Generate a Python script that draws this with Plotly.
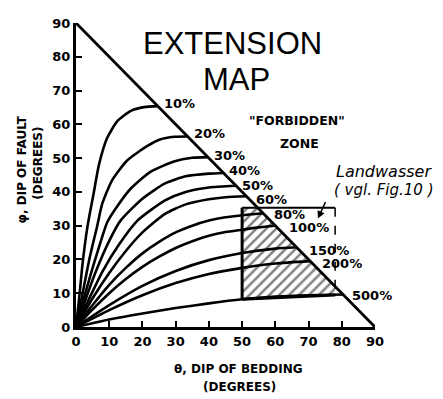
import plotly.graph_objects as go

# ---------------- data ----------------
curve_labels = ["10%", "20%", "30%", "40%", "50%", "60%", "80%", "100%", "150%", "200%", "500%"]

theta_10 = [0, 1, 2, 3.5, 5.3, 6.9, 9.4, 12.5, 16.5, 20.5, 24.6]
phi_10 = [0, 9, 19, 30, 39.5, 48, 56, 61, 64, 65.1, 65.4]

theta_20 = [0, 2, 4, 6.4, 7.9, 10.9, 15.4, 21.5, 25.3, 29.5, 33.6]
phi_20 = [0, 10, 20, 30, 36.5, 43.5, 49.3, 53.6, 55.5, 56.3, 56.4]

theta_30 = [0, 2.5, 5, 7.5, 9.4, 11.9, 16.5, 22.5, 29.5, 35, 39.7]
phi_30 = [0, 9, 17.5, 25.5, 31, 35, 41, 46, 49, 50.1, 50.3]

theta_40 = [0, 3, 6, 10, 13.4, 20, 26.8, 33, 40, 44.4]
phi_40 = [0, 8.5, 16.5, 25.5, 31.5, 38, 42.5, 44.6, 45.4, 45.6]

theta_50 = [0, 4, 8, 13, 18.5, 26.8, 33, 40, 48.2]
phi_50 = [0, 8.5, 16.5, 24.5, 31.5, 37.5, 40, 41.3, 41.8]

theta_60 = [0, 5, 10, 15, 20, 26.8, 33, 40, 45, 51.3]
phi_60 = [0, 8.5, 16, 22.5, 28, 33.5, 36.3, 37.8, 38.4, 38.7]

theta_80 = [0, 5, 10, 15, 20, 25, 30, 35, 40, 45, 50, 56.3]
phi_80 = [0, 6.5, 12.5, 17.5, 21.8, 25.2, 28, 30, 31.5, 32.5, 33.1, 33.7]

theta_100 = [0, 5, 10, 15, 20, 25, 30, 35, 40, 45, 50, 55, 60]
phi_100 = [0, 5.2, 10, 14.2, 17.8, 20.8, 23.4, 25.4, 27, 28.1, 28.8, 29.5, 30]

theta_150 = [0, 10, 20, 30, 40, 50, 60, 66.4]
phi_150 = [0, 6.5, 12.2, 16.6, 19.8, 21.9, 23.2, 23.6]

theta_200 = [0, 10, 20, 30, 40, 50, 60, 70.5]
phi_200 = [0, 5, 9.4, 13, 15.7, 17.5, 18.8, 19.5]

theta_500 = [0, 10, 20, 30, 40, 50, 60, 70, 80.4]
phi_500 = [0, 2.2, 4, 5.6, 7, 8.2, 9, 9.4, 9.6]

curve_theta = [theta_10, theta_20, theta_30, theta_40, theta_50, theta_60,
               theta_80, theta_100, theta_150, theta_200, theta_500]
curve_phi = [phi_10, phi_20, phi_30, phi_40, phi_50, phi_60,
             phi_80, phi_100, phi_150, phi_200, phi_500]

diag_theta = [0, 90]
diag_phi = [90, 0]

axis_ticks = [0, 10, 20, 30, 40, 50, 60, 70, 80, 90]

# Landwasser field (hatched box)
box_theta = [50, 78]
box_phi_top = 35.3
box_phi_bottom = [8.2, 9.5]

# ---------------- styles ----------------
label_dx = [4, 4, 4, 3, 4, 8, 9, 12, 10, 10, 7]
label_dy = [3, 3, 2, 2, 0, -3, -1.5, -2, -3, -2, -1]
INK = "black"
BOLD = dict(family="DejaVu Sans", size=13, color=INK, weight="bold")

fig = go.Figure()

# hatched region (below the diagonal)
hx = [box_theta[0], box_theta[0], 90 - box_phi_top, box_theta[1], box_theta[1], box_theta[0]]
hy = [box_phi_bottom[0], box_phi_top, box_phi_top, 90 - box_theta[1], box_phi_bottom[1], box_phi_bottom[0]]
fig.add_trace(go.Scatter(
    x=hx, y=hy, mode="lines", fill="toself", line=dict(width=0, color=INK),
    fillcolor="rgba(0,0,0,0)",
    fillpattern=dict(shape="/", size=7, solidity=0.35, fgcolor=INK, bgcolor="white"),
    hoverinfo="skip", showlegend=False))

# box outline
fig.add_trace(go.Scatter(x=[box_theta[0], box_theta[0]], y=[box_phi_bottom[0], box_phi_top],
                         mode="lines", line=dict(color=INK, width=3), showlegend=False))
fig.add_trace(go.Scatter(x=[box_theta[0], box_theta[1]], y=[box_phi_top, box_phi_top],
                         mode="lines", line=dict(color=INK, width=1.8), showlegend=False))
fig.add_trace(go.Scatter(x=[box_theta[1], box_theta[1]], y=[box_phi_top, box_phi_bottom[1]],
                         mode="lines", line=dict(color=INK, width=1.5, dash="dash"), showlegend=False))
fig.add_trace(go.Scatter(x=box_theta, y=box_phi_bottom,
                         mode="lines", line=dict(color=INK, width=3), showlegend=False))

# extension curves
for th, ph in zip(curve_theta, curve_phi):
    fig.add_trace(go.Scatter(x=th, y=ph, mode="lines",
                             line=dict(color=INK, width=2.6, shape="spline", smoothing=0.6),
                             cliponaxis=False, showlegend=False, hoverinfo="skip"))

# diagonal limit line
fig.add_trace(go.Scatter(x=diag_theta, y=diag_phi, mode="lines",
                         line=dict(color=INK, width=2.8), cliponaxis=False,
                         showlegend=False, hoverinfo="skip"))

# percentage labels
for lab, th, ph, dx, dy in zip(curve_labels, curve_theta, curve_phi, label_dx, label_dy):
    fig.add_annotation(x=th[-1], y=ph[-1], text=lab, showarrow=False,
                       xanchor="left", yanchor="middle", xshift=dx, yshift=dy,
                       font=BOLD)

# texts
TITLE_BIG = dict(family="Liberation Sans", size=31, color=INK)
fig.add_annotation(x=47.1, y=83.8, text="EXTENSION", showarrow=False, font=TITLE_BIG,
                   xanchor="center", yanchor="middle")
fig.add_annotation(x=48.2, y=73.3, text="MAP", showarrow=False, font=TITLE_BIG,
                   xanchor="center", yanchor="middle")
fig.add_annotation(x=66.5, y=61.2, text="\"FORBIDDEN\"", showarrow=False,
                   xanchor="center", yanchor="middle",
                   font=dict(family="DejaVu Sans", size=12.5, color=INK, weight="bold"))
fig.add_annotation(x=67.4, y=54.4, text="ZONE", showarrow=False,
                   xanchor="center", yanchor="middle",
                   font=dict(family="DejaVu Sans", size=12.5, color=INK, weight="bold"))
HAND = dict(family="DejaVu Sans", size=16, color=INK, style="italic")
fig.add_annotation(xref="paper", yref="paper", x=1.030, y=0.512, text="Landwasser",
                   xanchor="center", yanchor="middle", showarrow=False, font=HAND)
fig.add_annotation(xref="paper", yref="paper", x=1.030, y=0.451, text="( vgl. Fig.10 )",
                   xanchor="center", yanchor="middle", showarrow=False, font=dict(HAND, size=15))
fig.add_annotation(x=72.8, y=32.1, ax=75.3, ay=37.4, axref="x", ayref="y",
                   text="", showarrow=True, arrowhead=2, arrowsize=1, arrowwidth=1.5,
                   arrowcolor=INK)

# axis titles
TITLE = dict(family="DejaVu Sans", size=12, color=INK, weight="bold")
fig.add_annotation(xref="paper", yref="paper", x=0.542, y=-0.138, text="θ, DIP OF BEDDING",
                   xanchor="center", yanchor="middle", showarrow=False, font=TITLE)
fig.add_annotation(xref="paper", yref="paper", x=0.548, y=-0.196, text="(DEGREES)",
                   xanchor="center", yanchor="middle", showarrow=False, font=TITLE)
fig.add_annotation(xref="paper", yref="paper", x=-0.181, y=0.518, text="φ, DIP OF FAULT",
                   xanchor="center", yanchor="middle", showarrow=False, textangle=-90, font=TITLE)
fig.add_annotation(xref="paper", yref="paper", x=-0.127, y=0.537, text="(DEGREES)",
                   xanchor="center", yanchor="middle", showarrow=False, textangle=-90, font=TITLE)

axis_common = dict(range=[0, 90], tickvals=axis_ticks, ticks="inside", ticklen=6,
                   tickwidth=2, tickcolor=INK, showline=True, linewidth=3, linecolor=INK,
                   showgrid=False, zeroline=False, tickfont=BOLD, fixedrange=True)
fig.update_xaxes(**axis_common)
fig.update_yaxes(**axis_common)

# page body has an 8 px margin, so the figure is shrunk by that amount
fig.update_layout(
    width=435, height=391,
    margin=dict(l=68, r=68, t=8, b=72),
    paper_bgcolor="white", plot_bgcolor="white",
    showlegend=False,
)

fig.write_html("out.html")
